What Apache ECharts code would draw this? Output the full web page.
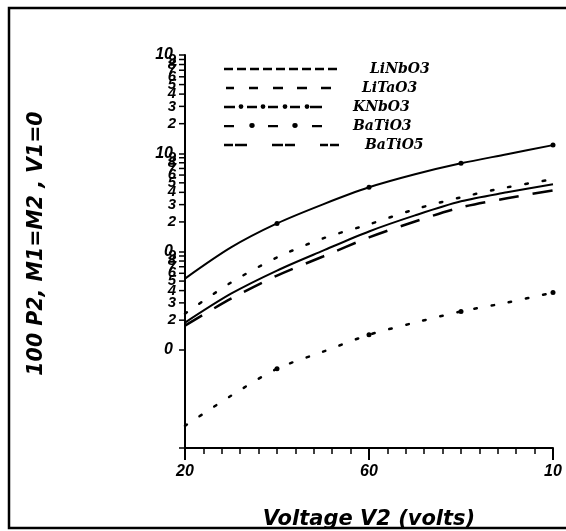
<!DOCTYPE html>
<html>
<head>
<meta charset="utf-8">
<script src="https://cdn.jsdelivr.net/npm/echarts@6/dist/echarts.min.js"></script>
<style>
  html, body { margin: 0; padding: 0; background: #fff; }
  #main { width: 566px; height: 531px; }
</style>
</head>
<body>
<div id="main"></div>
<script>
// voltage V2 (volts)
var voltage = [20, 30, 40, 50, 60, 70, 80, 90, 100];

// 100 P2 values
var liNbO3 = [0.00189, 0.00372, 0.0064, 0.0102, 0.0160, 0.0233, 0.0324, 0.0400, 0.0483];
var liTaO3 = [0.00176, 0.00331, 0.00569, 0.00889, 0.0139, 0.0202, 0.0281, 0.0348, 0.0419];
var kNbO3 = [0.0053, 0.0110, 0.0193, 0.0302, 0.045, 0.0611, 0.079, 0.0977, 0.121];
var baTiO3 = [0.000168, 0.00034, 0.00064, 0.000955, 0.00142, 0.00189, 0.00245, 0.00302, 0.00382];
var baTiO5 = [0.00233, 0.00483, 0.00869, 0.0136, 0.0189, 0.0269, 0.0356, 0.0450, 0.0543];

// axis tick labels
var xTickLabels = { 20: '20', 60: '60', 100: '10' };
var yDecadeLabels = { '0': '10', '-1': '10', '-2': '0', '-3': '0', '-4': '' };
var minorDigits = [2, 3, 4, 5, 6, 7, 8, 9];
var minorDecades = [-3, -2, -1];

var names = ['LiNbO3', 'LiTaO3', 'KNbO3', 'BaTiO3', 'BaTiO5'];

function pairs(ys) {
    return voltage.map(function (v, i) { return [v, ys[i]]; });
}

var minorTicks = [];
minorDecades.forEach(function (e) {
    minorDigits.forEach(function (d) {
        minorTicks.push([voltage[0], d * Math.pow(10, e), d]);
    });
});

// legend samples: dashes [x0, x1] and dots [cx, cy, r] in a 116 x 6 box
function iconPath(dashes, dots) {
    var p = 'path://M0,0M116,6';
    dashes.forEach(function (d) {
        p += 'M' + d[0] + ',1.8L' + d[1] + ',1.8L' + d[1] + ',4.2L' + d[0] + ',4.2Z';
    });
    (dots || []).forEach(function (c) {
        var r = c[2];
        p += 'M' + (c[0] - r) + ',' + c[1] + 'a' + r + ',' + r + ' 0 1,0 ' + (2 * r) + ',0' +
             'a' + r + ',' + r + ' 0 1,0 ' + (-2 * r) + ',0Z';
    });
    return p;
}

var icons = [
    iconPath([[1, 10], [14, 23], [27, 36], [40, 49], [53, 62], [66, 75], [79, 88], [92, 101], [105, 114]]),
    iconPath([[3, 11], [26, 35], [50, 60], [74, 84], [98, 108]]),
    iconPath([[1, 12], [24, 34], [45, 55], [67, 77], [87, 99]], [[18, 2.6, 2.4], [40, 2.6, 2.4], [62, 2.6, 2.4], [84, 2.6, 2.4]]),
    iconPath([[1, 11], [45, 55], [89, 99]], [[29, 2.2, 2.7], [72, 2.2, 2.7]]),
    iconPath([[1, 10], [12, 24], [49, 60], [62, 72], [97, 105], [107, 116]])
];
var textPads = [26, 18, 9, 9, 21];

var labelFont = 'bold italic 15px "Liberation Sans"';

var chartDom = document.getElementById('main');
var myChart = echarts.init(chartDom);
var option;

function dotAtEven(val, params) {
    return params.dataIndex > 0 && params.dataIndex % 2 === 0 ? 5 : 0;
}

option = {
    backgroundColor: '#fff',
    animation: false,
    grid: { left: 185, right: 13, top: 55, bottom: 83, outerBoundsMode: 'none', containLabel: false },
    legend: {
        orient: 'vertical',
        left: 218,
        top: 57,
        itemWidth: 116,
        itemHeight: 6,
        itemGap: 5,
        symbolKeepAspect: false,
        selectedMode: false,
        textStyle: {
            fontFamily: 'DejaVu Serif',
            fontStyle: 'italic',
            fontWeight: 'bold',
            fontSize: 14,
            color: '#000',
            lineHeight: 14
        },
        data: names.map(function (n, i) {
            return {
                name: n,
                icon: icons[i],
                itemStyle: { color: '#000', borderWidth: 0 },
                lineStyle: { width: 0 },
                textStyle: { padding: [0, 0, 0, textPads[i]] }
            };
        })
    },
    xAxis: {
        type: 'value',
        min: 20,
        max: 100,
        interval: 40,
        name: 'Voltage V2 (volts)',
        nameLocation: 'middle',
        nameGap: 61,
        nameTextStyle: { fontFamily: 'DejaVu Sans', fontStyle: 'italic', fontWeight: 'bold', fontSize: 21, color: '#000', verticalAlign: 'top' },
        axisLine: { lineStyle: { color: '#000', width: 2 } },
        axisTick: { length: 12, lineStyle: { color: '#000', width: 2 } },
        minorTick: { show: true, splitNumber: 10, length: 6, lineStyle: { color: '#000', width: 1.5 } },
        splitLine: { show: false },
        axisLabel: {
            margin: 16,
            color: '#000',
            fontFamily: 'Liberation Sans', fontStyle: 'italic', fontWeight: 'bold', fontSize: 16,
            formatter: function (v) { return xTickLabels[v] || ''; }
        }
    },
    yAxis: {
        type: 'log',
        logBase: 10,
        min: 0.0001,
        max: 1,
        name: '100 P2, M1=M2 , V1=0',
        nameLocation: 'middle',
        nameRotate: 90,
        nameGap: 138,
        nameTextStyle: { fontFamily: 'DejaVu Sans', fontStyle: 'italic', fontWeight: 'bold', fontSize: 20.5, color: '#000', padding: [0, 0, 0, 16] },
        axisLine: { show: true, lineStyle: { color: '#000', width: 2 } },
        axisTick: { show: true, length: 6, lineStyle: { color: '#000', width: 1.5 } },
        splitLine: { show: false },
        axisLabel: {
            margin: 12,
            color: '#000',
            fontFamily: 'Liberation Sans', fontStyle: 'italic', fontWeight: 'bold', fontSize: 16,
            formatter: function (v) {
                var e = Math.round(Math.log(v) / Math.LN10);
                var s = yDecadeLabels[String(e)];
                return s === undefined ? '' : s;
            }
        }
    },
    series: [
        {
            name: 'LiNbO3', type: 'line', data: pairs(liNbO3), smooth: 0.3,
            showSymbol: false, lineStyle: { color: '#000', width: 2 }, itemStyle: { color: '#000' }
        },
        {
            name: 'LiTaO3', type: 'line', data: pairs(liTaO3), smooth: 0.3,
            showSymbol: false, lineStyle: { color: '#000', width: 2.5, type: [20, 14] }, itemStyle: { color: '#000' }
        },
        {
            name: 'KNbO3', type: 'line', data: pairs(kNbO3), smooth: 0.3,
            symbol: 'circle', symbolSize: dotAtEven,
            lineStyle: { color: '#000', width: 2 }, itemStyle: { color: '#000' }
        },
        {
            name: 'BaTiO3', type: 'line', data: pairs(baTiO3), smooth: 0.3,
            symbol: 'circle', symbolSize: dotAtEven,
            lineStyle: { color: '#000', width: 2.5, type: [2.5, 15], cap: 'round' }, itemStyle: { color: '#000' }
        },
        {
            name: 'BaTiO5', type: 'line', data: pairs(baTiO5), smooth: 0.3,
            showSymbol: false, lineStyle: { color: '#000', width: 2.5, type: [2.5, 15], cap: 'round' }, itemStyle: { color: '#000' }
        },
        {
            // minor ticks and digit labels of the log axis
            type: 'custom',
            silent: true,
            clip: false,
            data: minorTicks,
            renderItem: function (params, api) {
                var p = api.coord([api.value(0), api.value(1)]);
                return {
                    type: 'group',
                    children: [
                        { type: 'line', shape: { x1: p[0] - 6, y1: p[1], x2: p[0], y2: p[1] }, style: { stroke: '#000', lineWidth: 1.5 } },
                        { type: 'text', style: { text: String(api.value(2)), x: p[0] - 9, y: p[1], align: 'right', verticalAlign: 'middle', font: labelFont, fill: '#000' } }
                    ]
                };
            }
        }
    ],
    graphic: [
        {
            type: 'polyline',
            z: 100,
            shape: { points: [[566, 8], [9, 8], [9, 528], [566, 528]] },
            style: { stroke: '#000', lineWidth: 2.5, fill: null }
        },
        {
            type: 'rect',
            z: 99,
            shape: { x: 0, y: 529, width: 566, height: 2 },
            style: { fill: '#fff' }
        }
    ]
};

option && myChart.setOption(option);
</script>
</body>
</html>
